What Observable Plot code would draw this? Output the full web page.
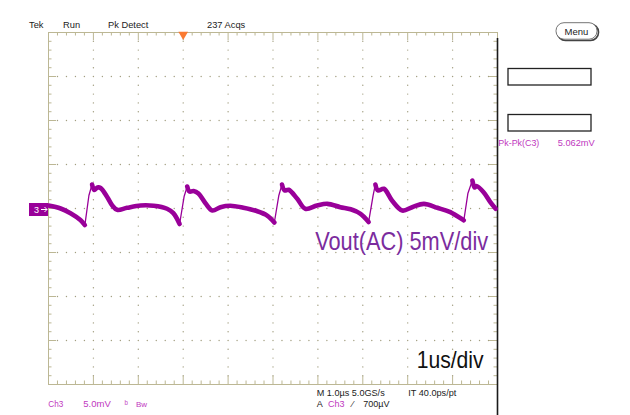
<!DOCTYPE html>
<html><head><meta charset="utf-8">
<script src="https://cdn.jsdelivr.net/npm/d3@7"></script>
<script src="https://cdn.jsdelivr.net/npm/@observablehq/plot@0.6"></script>
<style>
body{margin:0;background:#fff;}
#chart{width:630px;height:415px;overflow:hidden;}
svg{font-family:"Liberation Sans",Arial,sans-serif;}
</style></head><body><div id="chart"></div>
<script>
// ---- Trace data (time in µs, 1 µs/div; voltage in mV, 5 mV/div) ----
// slow "band" portion of each switching cycle (drawn thick, peak-detect)
const bandTimeUs = [0.00,0.27,0.49,0.71,0.81,
  0.97,1.02,1.09,1.16,1.31,1.42,1.53,1.75,2.05,2.34,2.64,2.78,2.92,
  3.09,3.14,3.23,3.34,3.50,3.65,3.83,4.05,4.34,4.65,4.87,5.03,
  5.20,5.26,5.35,5.54,5.72,5.98,6.21,6.50,6.73,6.95,7.13,
  7.28,7.34,7.47,7.65,7.88,8.10,8.36,8.66,8.95,9.25,
  9.44,9.49,9.53,9.69,9.84,9.96];
const bandVoltMv = [0.34,0.00,-0.53,-1.31,-1.88,
  2.73,2.10,2.39,2.33,1.28,0.34,-0.15,0.08,0.34,0.31,-0.03,-0.53,-1.76,
  2.50,1.93,1.99,1.70,0.57,-0.23,0.15,0.31,0.08,-0.31,-0.80,-1.59,
  2.73,2.05,2.13,1.10,-0.03,0.34,0.53,0.15,-0.09,-0.60,-1.53,
  2.73,2.05,2.24,0.91,-0.23,0.15,0.53,0.08,-0.42,-1.34,
  3.18,2.39,2.56,1.85,0.72,-0.03];
const bandCycle = [0,0,0,0,0,
  1,1,1,1,1,1,1,1,1,1,1,1,1,
  2,2,2,2,2,2,2,2,2,2,2,2,
  3,3,3,3,3,3,3,3,3,3,3,
  4,4,4,4,4,4,4,4,4,4,
  5,5,5,5,5,5];
// fast rising edges (drawn thin) — mid points between cycle minimum and spike
const edgeTimeUs = [0.90,3.02,5.13,7.23,9.34];
const edgeVoltMv = [1.48,1.36,1.48,1.48,1.70];

// ---- Scope settings / labels ----
const triggerUs = [3];
const statusLabels = ["Tek","Run","Pk Detect","237 Acqs"];
const measLabel = "Pk-Pk(C3)", measValue = "5.062mV";
const chLabel = ["Ch3","5.0mV","\u1D47","Bw"];
const timeLabel1 = ["M 1.0\u00B5s 5.0GS/s","IT 40.0ps/pt"];
const trigLabel = ["A","Ch3","\u2044","700\u00B5V"];
const voltAnno = "Vout(AC) 5mV/div";
const timeAnno = "1us/div";
const voltAnnoPos = {t: 5.95, v: -4.8};
const timeAnnoPos = {t: 8.21, v: -18.2};

// ---- Build ----
const W = 630, H = 415, mT = 32, mR = 133, mB = 31, mL = 48;
const tan = "#bcb794", dotC = "#a29e80", trace = "#990099", mag = "#c038c0";
const pxPerMv = (H - mT - mB) / 40, pxPerUs = (W - mL - mR) / 10;

const band = bandTimeUs.map((t, i) => ({t, v: bandVoltMv[i], c: bandCycle[i]}));
const all = band.concat(edgeTimeUs.map((t, i) => ({t, v: edgeVoltMv[i]}))).sort((a, b) => a.t - b.t);

const gridDots = [];
for (const gx of d3.range(1, 10)) for (const gy of d3.range(-19, 20)) if (gy % 5) gridDots.push({x: gx, y: gy});
for (const gy of d3.range(-15, 20, 5)) for (let i = 1; i < 50; i++) gridDots.push({x: i / 5, y: gy});

const minorX = d3.range(1, 50).map(i => i / 5);
const minorY = d3.range(-19, 20);
const isMajX = d => Math.abs(d - Math.round(d)) < 1e-9;
const isMajY = d => d % 5 === 0;
const lenX = d => (isMajX(d) ? 8 : 3.5);
const lenY = d => (isMajY(d) ? 8 : 3.5);

const plot = Plot.plot({
  width: W, height: H, marginTop: mT, marginRight: mR, marginBottom: mB, marginLeft: mL,
  x: {domain: [0, 10], axis: null},
  y: {domain: [-20, 20], axis: null},
  style: {background: "white", overflow: "visible"},
  marks: [
    Plot.dot(gridDots, {x: "x", y: "y", r: 0.7, fill: dotC, stroke: null}),
    Plot.ruleX(minorX, {x: d => d, y1: 20, y2: d => 20 - lenX(d) / pxPerMv, stroke: tan}),
    Plot.ruleX(minorX, {x: d => d, y1: -20, y2: d => -20 + lenX(d) / pxPerMv, stroke: tan}),
    Plot.ruleY(minorY, {y: d => d, x1: 0, x2: d => lenY(d) / pxPerUs, stroke: tan}),
    Plot.ruleY(minorY, {y: d => d, x1: 10, x2: d => 10 - lenY(d) / pxPerUs, stroke: tan}),
    Plot.frame({stroke: tan}),
    Plot.ruleX([10], {y1: 20 - 6 / pxPerMv, y2: -20 - mB / pxPerMv, stroke: "#1a1a1a", strokeWidth: 1.6}),
    Plot.line(all, {x: "t", y: "v", stroke: trace, strokeWidth: 1.3}),
    Plot.line(band, {x: "t", y: "v", z: "c", stroke: trace, strokeWidth: 4.6, curve: "catmull-rom", strokeLinejoin: "round"}),
    Plot.dot(triggerUs, {x: d => d, frameAnchor: "top", symbol: "triangle", rotate: 180, r: 3.6, fill: "#fa7a32", stroke: null, dy: 2})
  ]
});
document.getElementById("chart").appendChild(plot);

const svg = d3.select(plot);
const xs = plot.scale("x"), ys = plot.scale("y");
function txt(s, x, y, opts = {}) {
  const t = svg.append("text").attr("x", x).attr("y", y).text(s)
    .attr("font-size", opts.size || 9.3).attr("fill", opts.fill || "#222")
    .attr("text-anchor", opts.anchor || "start");
  if (opts.len) t.attr("textLength", opts.len).attr("lengthAdjust", "spacingAndGlyphs");
  return t;
}
// status line
[29, 63, 108, 207].forEach((x, i) => txt(statusLabels[i], x, 28.3));
// menu button
svg.append("rect").attr("x", 557.5).attr("y", 24).attr("width", 41).attr("height", 16.5).attr("rx", 8)
  .attr("fill", "none").attr("stroke", "#444").attr("stroke-width", 1.6);
svg.append("rect").attr("x", 556).attr("y", 22.7).attr("width", 41).attr("height", 16.5).attr("rx", 8)
  .attr("fill", "#fff").attr("stroke", "#666").attr("stroke-width", 0.9);
txt("Menu", 576.5, 35.3, {anchor: "middle", size: 9.5});
// measurement boxes
[68.5, 114.5].forEach(y => svg.append("rect").attr("x", 508).attr("y", y).attr("width", 83).attr("height", 16.5)
  .attr("fill", "none").attr("stroke", "#222").attr("stroke-width", 1.3));
txt(measLabel, 498.3, 145.5, {fill: mag, size: 9, len: 41});
txt(measValue, 557.7, 145.5, {fill: mag, size: 9, len: 37});
// ground marker
const y0 = ys.apply(0) + 1.5;
svg.append("rect").attr("x", 29).attr("y", y0 - 6.5).attr("width", 19).attr("height", 13).attr("fill", trace);
txt("3", 36.5, y0 + 3.3, {fill: "#fff", size: 9, anchor: "middle"});
svg.append("path").attr("d", `M41,${y0}H47M44.5,${y0 - 2.5}L47,${y0}L44.5,${y0 + 2.5}`)
  .attr("stroke", "#fff").attr("fill", "none").attr("stroke-width", 1);
// annotations
txt(voltAnno, xs.apply(voltAnnoPos.t), ys.apply(voltAnnoPos.v), {fill: "#7b2c9e", size: 25, len: 173});
txt(timeAnno, xs.apply(timeAnnoPos.t), ys.apply(timeAnnoPos.v), {fill: "#111", size: 24, len: 67});
// bottom readouts
txt(chLabel[0], 48.3, 407.3, {fill: mag, size: 9, len: 15});
txt(chLabel[1], 83.3, 407.3, {fill: mag, size: 9, len: 27.5});
txt(chLabel[2], 124.5, 407.3, {fill: mag, size: 9});
txt(chLabel[3], 136, 407.3, {fill: mag, size: 8});
txt(timeLabel1[0], 316.7, 396, {size: 9, len: 68});
txt(timeLabel1[1], 408.3, 396, {size: 9, len: 48});
txt(trigLabel[0], 316.7, 407.3, {size: 9});
txt(trigLabel[1], 328, 407.3, {fill: mag, size: 9});
txt(trigLabel[2], 352, 407.3, {size: 9});
txt(trigLabel[3], 363.3, 407.3, {size: 9});
</script></body></html>
